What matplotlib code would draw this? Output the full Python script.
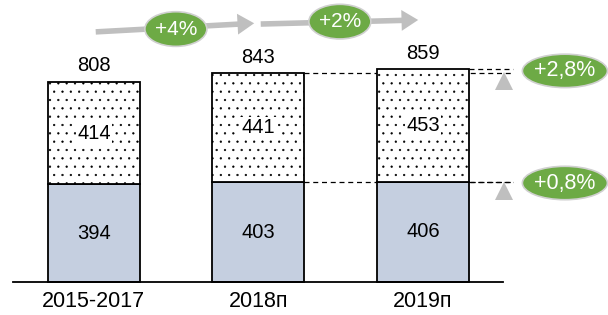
#! /usr/bin/env python3
import numpy as np
import matplotlib
matplotlib.use('Agg')

import matplotlib.pyplot as plt
import matplotlib.patches as mpatches

plt.rcParams["font.family"] = ["Liberation Sans", "DejaVu Sans"]
plt.rcParams["font.size"] = 14.5
plt.rcParams["hatch.linewidth"] = 0.4

categories = ['2015-2017', '2018п', '2019п']
bottom_vals = [394, 403, 406]
top_vals = [414, 441, 453]
totals = [808, 843, 859]
growth_labels = ['+4%', '+2%']
right_labels = ['+2,8%', '+0,8%']

GREEN = '#6DAA45'
GREY = '#BFBFBF'
BLUE = '#C5CFE0'

fig = plt.figure(figsize=(6.08, 3.15), dpi=100)
ax = fig.add_axes([0, 0, 1, 1])
ax.set_xlim(-0.571, 3.125)
ax.set_ylim(-133.3, 1139.4)
ax.axis('off')

x = np.arange(len(categories))
w = 0.56
bottom = np.array(bottom_vals)
top = np.array(top_vals)

ax.bar(x, bottom, width=w, color=BLUE, edgecolor='black', linewidth=1.3, zorder=3)
ax.bar(x, top, bottom=bottom, width=w, color='white', edgecolor='black',
       linewidth=1.3, hatch='..', zorder=3)

# baseline
ax.plot([-0.493, 2.486], [0, 0], color='black', lw=1.3, zorder=4)

for i in range(len(categories)):
    ax.text(x[i], bottom[i] / 2, str(bottom[i]), ha='center', va='center', zorder=5)
    ax.text(x[i], bottom[i] + top[i] / 2, str(top[i]), ha='center', va='center', zorder=5,
            bbox=dict(facecolor='white', edgecolor='none', pad=1))
    ax.text(x[i], totals[i] + 65, str(totals[i]), ha='center', va='center')
    ax.text(x[i], -77, categories[i], ha='center', va='center', fontsize=15.5)

# dashed reference lines
x_end = 2.547
for i in (1, 2):
    ax.plot([x[i] + w / 2, x_end], [totals[i], totals[i]], color='black', lw=0.9,
            ls=(0, (4, 3)), zorder=2)
    ax.plot([x[i] + w / 2, x_end], [bottom[i], bottom[i]], color='black', lw=0.9,
            ls=(0, (4, 3)), zorder=2)

# grey triangles
ax.plot([2.49, 2.49], [812, 368], ls='none', marker='^', markersize=13,
        color=GREY, markeredgewidth=0, zorder=5)

# growth arrows on top
arrows = [((-0.006, 1010), (0.991, 1046)), ((0.997, 1042), (1.988, 1059))]
for (p0, p1) in arrows:
    arr = mpatches.FancyArrowPatch(p0, p1, arrowstyle='simple,head_length=0.6,head_width=0.75,tail_width=0.2',
                                   mutation_scale=20, color=GREY, lw=0, zorder=5)
    ax.add_patch(arr)

ell_top = [(0.498, 1022), (1.495, 1052)]
for (cx, cy), lab in zip(ell_top, growth_labels):
    e = mpatches.Ellipse((cx, cy), 0.377, 140, facecolor=GREEN, edgecolor='#D0D0D0',
                         lw=1.2, zorder=6)
    ax.add_patch(e)
    ax.text(cx, cy, lab, ha='center', va='center', color='white', fontsize=15, zorder=7)

ell_right = [(2.863, 853), (2.863, 400)]
for (cx, cy), lab in zip(ell_right, right_labels):
    e = mpatches.Ellipse((cx, cy), 0.517, 135, facecolor=GREEN, edgecolor='#D0D0D0',
                         lw=1.2, zorder=6)
    ax.add_patch(e)
    ax.text(cx, cy, lab, ha='center', va='center', color='white', fontsize=15.5, zorder=7)

plt.savefig('out.png', dpi=100)
